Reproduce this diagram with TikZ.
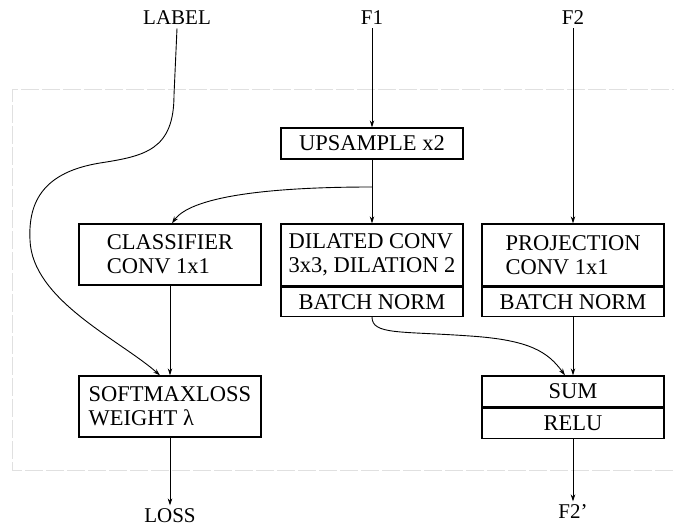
\documentclass[tikz,border=0pt]{standalone}
\usepackage{fontspec}
\setmainfont{Liberation Serif}
\usetikzlibrary{arrows.meta,positioning}
\tikzset{
  blockbox/.style={draw,line width=1.3pt,minimum width=182pt,inner sep=0pt,align=left,
    font=\fontsize{22.5}{24}\selectfont},
  arr/.style={line width=0.9pt,-{Stealth[length=7pt,width=4.5pt]}},
}
\begin{document}
\begin{tikzpicture}[x=1pt,y=-1pt,font=\fontsize{21}{24}\selectfont]
  \useasboundingbox (0,0) rectangle (674,526);
  % frame of the block
  \draw[black!12,line width=1pt,dash pattern=on 18pt off 3pt] (690,90) -- (12,90) -- (12,470) -- (690,470);
  % inputs and outputs
  \node (lab) at (177,18) {LABEL};
  \node (fone) at (372,18) {F1};
  \node (ftwo) at (573,18) {F2};
  \node (loss) at (170,516) {LOSS};
  \node (fout) at (573,512) {F2’};
  % blocks
  \node[blockbox,minimum height=31pt] (up) at (372,143.5) {UPSAMPLE x2};
  \node[blockbox,minimum height=61pt] (cls) at (170,254.5) {CLASSIFIER\\CONV 1x1};
  \node[blockbox,minimum height=62pt] (dil) at (372,255) {DILATED CONV\\3x3, DILATION 2};
  \node[blockbox,minimum height=29pt,anchor=north] (bnd) at (dil.south) {BATCH NORM};
  \node[blockbox,minimum height=62pt] (proj) at (573,255) {PROJECTION\\CONV 1x1};
  \node[blockbox,minimum height=29pt,anchor=north] (bnp) at (proj.south) {BATCH NORM};
  \node[blockbox,minimum height=61pt] (soft) at (170,406.5) {SOFTMAXLOSS\\WEIGHT λ};
  \node[blockbox,minimum height=31pt] (sum) at (573,391.5) {SUM};
  \node[blockbox,minimum height=30pt,anchor=north] (relu) at (sum.south) {RELU};
  \coordinate (br) at (372,187);
  % connectors
  \draw[arr] (fone) -- (up);
  \draw[arr] (up) -- (dil);
  \draw[arr] (br) .. controls (260,187) and (190,198) .. ([xshift=2pt]cls.north);
  \draw[arr] (ftwo) -- (proj);
  \draw[arr] (cls) -- (soft);
  \draw[arr] (bnp) -- (sum);
  \draw[arr] (soft) -- (loss);
  \draw[arr] (relu) -- (fout);
  \draw[arr] (lab.south) -- (174,95) .. controls (174,150) and (145,156) .. (100,163)
    .. controls (45,172) and (28,200) .. (30,240)
    .. controls (32,300) and (120,340) .. ([xshift=-10pt]soft.north);
  \draw[arr] (bnd.south) .. controls (372,335) and (400,331) .. (470,336)
    .. controls (530,340) and (548,352) .. ([xshift=-8pt]sum.north);
\end{tikzpicture}
\end{document}
